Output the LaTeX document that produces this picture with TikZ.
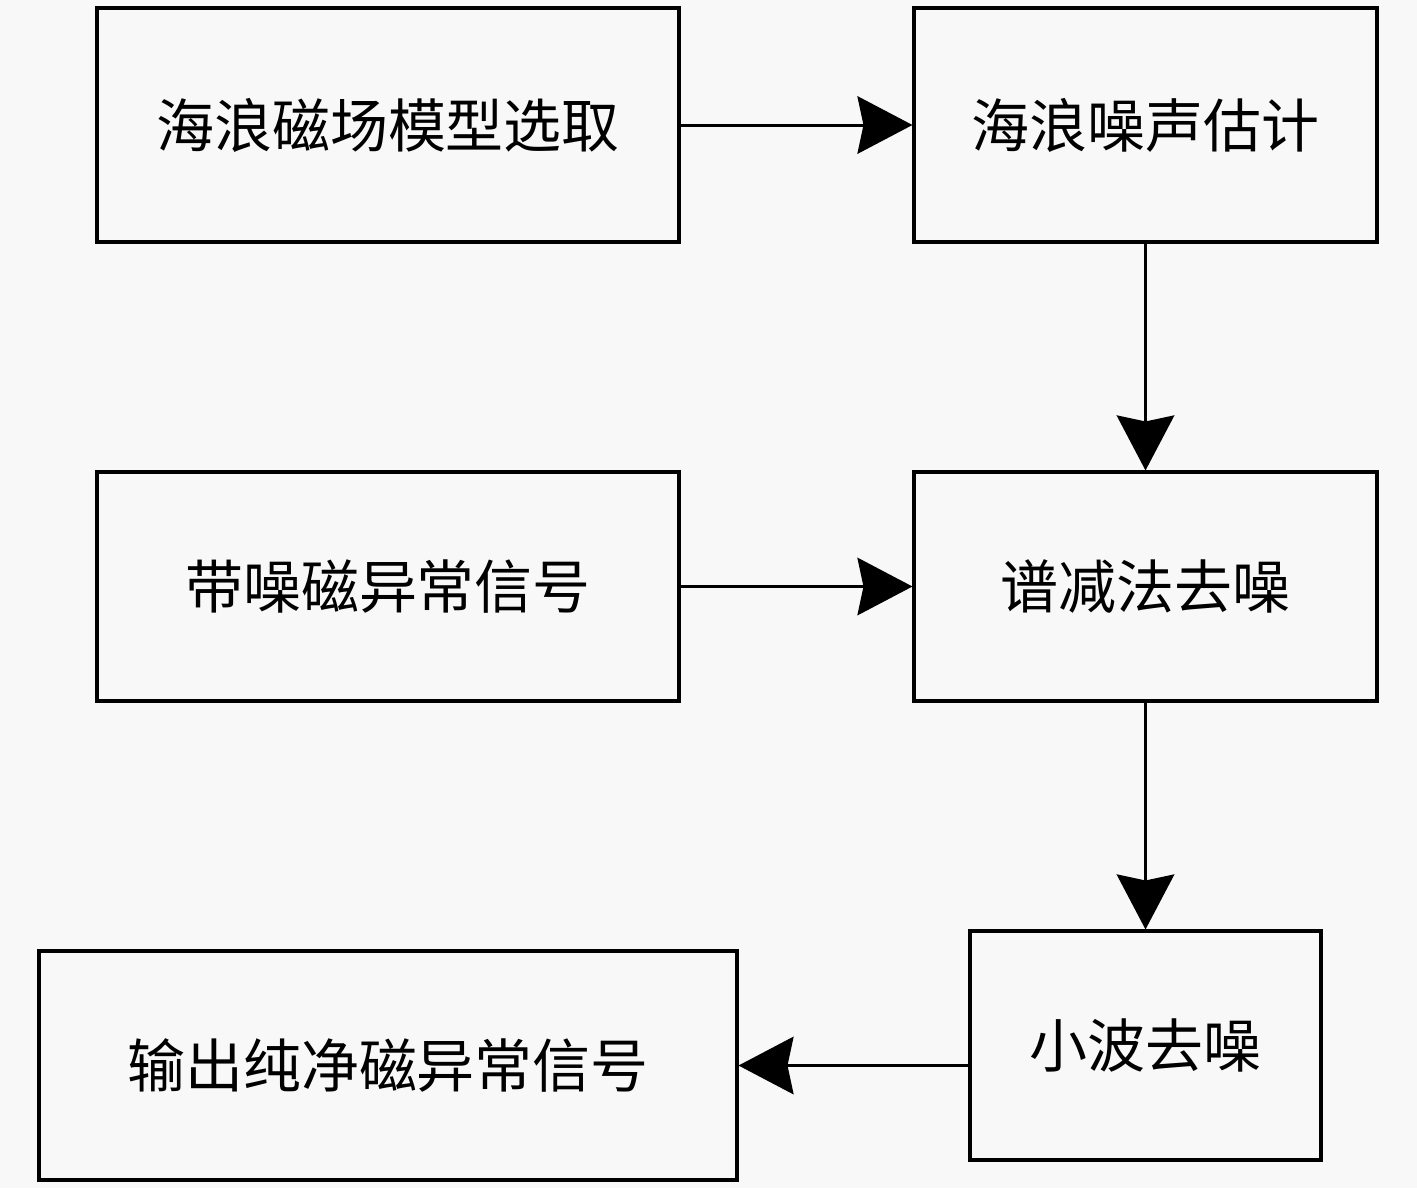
\documentclass[tikz,border=0pt]{standalone}
\usepackage{fontspec}
\setmainfont{Noto Sans CJK SC}
\usetikzlibrary{arrows.meta,calc}
\definecolor{bg}{HTML}{F8F8F8}
\begin{document}
\begin{tikzpicture}[x=0.02cm,y=-0.02cm,
  box/.style={draw=black,line width=1.8pt,inner sep=0pt,fill=bg,
    font=\fontsize{33}{40}\selectfont},
  arr/.style={line width=1.7pt,-{Stealth[length=1.1cm,width=1.15cm,inset=0.12cm]}}]
\fill[bg] (0,0) rectangle (1417,1188);
\useasboundingbox (0,0) rectangle (1417,1188);
\node[box,minimum width=11.64cm,minimum height=4.68cm] (A) at (388,125) {海浪磁场模型选取};
\node[box,minimum width=9.26cm,minimum height=4.68cm] (B) at (1145.5,125) {海浪噪声估计};
\node[box,minimum width=11.64cm,minimum height=4.58cm] (C) at (388,586.5) {带噪磁异常信号};
\node[box,minimum width=9.26cm,minimum height=4.58cm] (D) at (1145.5,586.5) {谱减法去噪};
\node[box,minimum width=7.02cm,minimum height=4.58cm] (E) at (1145.5,1045.5) {小波去噪};
\node[box,minimum width=13.96cm,minimum height=4.58cm] (F) at (388,1065.5) {输出纯净磁异常信号};
\draw[arr] (A) -- (B);
\draw[arr] (B) -- (D);
\draw[arr] (C) -- (D);
\draw[arr] (D) -- (E);
\draw[arr] (E.west |- F.east) -- (F.east);
\end{tikzpicture}
\end{document}
